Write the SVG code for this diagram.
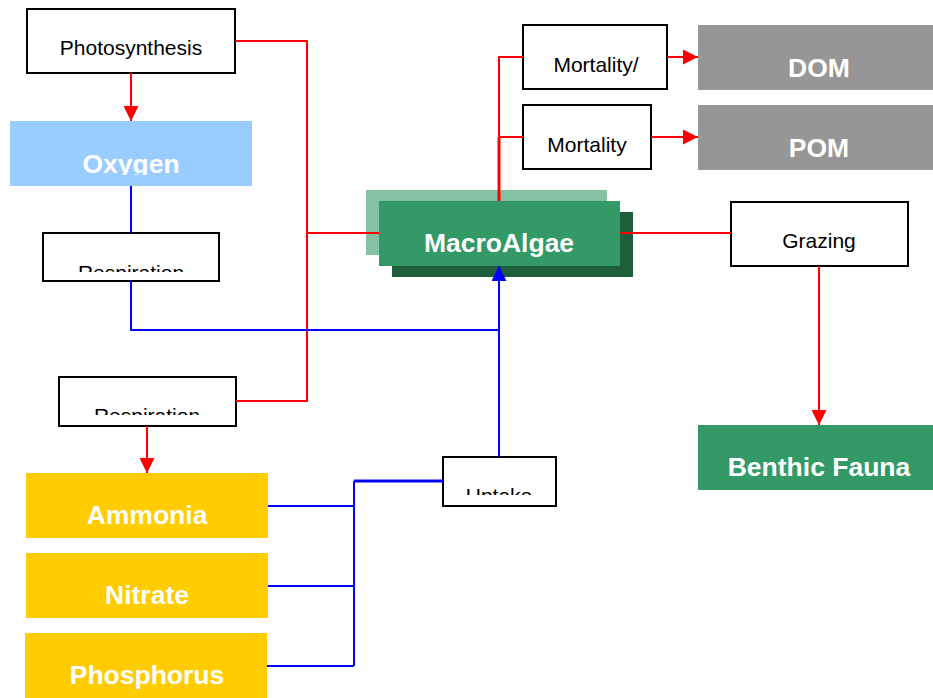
<svg xmlns="http://www.w3.org/2000/svg" width="933" height="698" viewBox="0 0 933 698">
  <style>
    .proc { fill: #ffffff; stroke: #000000; stroke-width: 2; }
    .ptxt { font-family: "Liberation Sans", Arial, sans-serif; font-size: 21px; fill: #000000; text-anchor: middle; }
    .btxt { font-family: "Liberation Sans", Arial, sans-serif; font-size: 26.5px; font-weight: bold; fill: #ffffff; text-anchor: middle; }
    .red { fill: none; stroke: #ff0000; stroke-width: 2; }
    .blue { fill: none; stroke: #0000ff; stroke-width: 2; }
    .heavy { stroke-width: 3; }
  </style>
  <defs>
    <marker id="arrRed" markerUnits="userSpaceOnUse" markerWidth="16" markerHeight="16" refX="15" refY="7.5" orient="auto">
      <path d="M0,0 L15,7.5 L0,15 z" fill="#ff0000"/>
    </marker>
    <marker id="arrBlue" markerUnits="userSpaceOnUse" markerWidth="16" markerHeight="16" refX="15" refY="7.5" orient="auto">
      <path d="M0,0 L15,7.5 L0,15 z" fill="#0000ff"/>
    </marker>
    <clipPath id="clipOxygen"><rect x="10" y="121" width="242" height="54"/></clipPath>
    <clipPath id="clipResp1"><rect x="43" y="233" width="176" height="39"/></clipPath>
    <clipPath id="clipResp2"><rect x="59" y="377" width="177" height="38"/></clipPath>
    <clipPath id="clipUptake"><rect x="443" y="457" width="113" height="38"/></clipPath>
  </defs>

  <rect width="933" height="698" fill="#ffffff"/>

  <g id="photosynthesis">
    <rect class="proc" x="27" y="9" width="208" height="64"/>
    <text class="ptxt" x="131" y="55">Photosynthesis</text>
  </g>

  <g id="oxygen">
    <rect x="10" y="121" width="242" height="65" fill="#99ccff"/>
    <text class="btxt" x="131" y="173" clip-path="url(#clipOxygen)">Oxygen</text>
  </g>

  <g id="respiration-1">
    <rect class="proc" x="43" y="233" width="176" height="48"/>
    <text class="ptxt" x="131" y="280" clip-path="url(#clipResp1)">Respiration</text>
  </g>

  <g id="respiration-2">
    <rect class="proc" x="59" y="377" width="177" height="49"/>
    <text class="ptxt" x="147" y="423" clip-path="url(#clipResp2)">Respiration</text>
  </g>

  <g id="macroalgae">
    <rect x="366" y="190" width="241" height="65" fill="#339966" opacity="0.6"/>
    <rect x="392" y="212" width="241" height="65" fill="#1f5e3d"/>
    <rect x="379" y="201" width="241" height="65" fill="#339966"/>
    <text class="btxt" x="499" y="252">MacroAlgae</text>
  </g>

  <g id="mortality-dom">
    <rect class="proc" x="523" y="25" width="144" height="64"/>
    <text class="ptxt" x="596" y="72">Mortality/</text>
  </g>

  <g id="mortality-pom">
    <rect class="proc" x="523" y="105" width="128" height="64"/>
    <text class="ptxt" x="587" y="152">Mortality</text>
  </g>

  <g id="dom">
    <rect x="698" y="25" width="242" height="65" fill="#969696"/>
    <text class="btxt" x="819" y="77">DOM</text>
  </g>

  <g id="pom">
    <rect x="698" y="105" width="242" height="65" fill="#969696"/>
    <text class="btxt" x="819" y="157">POM</text>
  </g>

  <g id="grazing">
    <rect class="proc" x="731" y="202" width="177" height="64"/>
    <text class="ptxt" x="819" y="248">Grazing</text>
  </g>

  <g id="benthic-fauna">
    <rect x="698" y="425" width="242" height="65" fill="#339966"/>
    <text class="btxt" x="819" y="476">Benthic Fauna</text>
  </g>

  <g id="uptake">
    <rect class="proc" x="443" y="457" width="113" height="49"/>
    <text class="ptxt" x="499" y="503" clip-path="url(#clipUptake)">Uptake</text>
  </g>

  <g id="ammonia">
    <rect x="26" y="473" width="242" height="65" fill="#ffcc00"/>
    <text class="btxt" x="147" y="524">Ammonia</text>
  </g>

  <g id="nitrate">
    <rect x="26" y="553" width="242" height="65" fill="#ffcc00"/>
    <text class="btxt" x="147" y="604">Nitrate</text>
  </g>

  <g id="phosphorus">
    <rect x="25" y="633" width="242" height="65" fill="#ffcc00"/>
    <text class="btxt" x="147" y="684">Phosphorus</text>
  </g>

  <!-- connectors, drawn over the node fills -->
  <g id="connectors">
    <!-- photosynthesis / respiration loop -->
    <polyline class="red" points="235,41 307,41 307,401 236,401"/>
    <line class="red" x1="307" y1="233" x2="379" y2="233"/>
    <line class="red" x1="131" y1="73" x2="131" y2="121" marker-end="url(#arrRed)"/>
    <line class="red" x1="147" y1="426" x2="147" y2="473" marker-end="url(#arrRed)"/>
    <!-- mortality -->
    <line class="red heavy" x1="499" y1="201" x2="499" y2="137"/>
    <polyline class="red" points="499,137 499,57 523,57"/>
    <line class="red" x1="499" y1="137" x2="523" y2="137"/>
    <line class="red" x1="667" y1="57" x2="698" y2="57" marker-end="url(#arrRed)"/>
    <line class="red" x1="651" y1="137" x2="698" y2="137" marker-end="url(#arrRed)"/>
    <!-- grazing -->
    <line class="red" x1="620" y1="233" x2="731" y2="233"/>
    <line class="red" x1="819" y1="266" x2="819" y2="425" marker-end="url(#arrRed)"/>
    <!-- oxygen / respiration -->
    <line class="blue" x1="131" y1="186" x2="131" y2="233"/>
    <polyline class="blue" points="131,281 131,330 499,330"/>
    <!-- uptake -->
    <line class="blue" x1="499" y1="457" x2="499" y2="266" marker-end="url(#arrBlue)"/>
    <line class="blue" x1="268" y1="506" x2="354" y2="506"/>
    <line class="blue" x1="268" y1="586" x2="354" y2="586"/>
    <line class="blue" x1="267" y1="666" x2="354" y2="666"/>
    <polyline class="blue" points="354,666 354,481"/>
    <line class="blue heavy" x1="354" y1="481" x2="443" y2="481"/>
  </g>
</svg>
